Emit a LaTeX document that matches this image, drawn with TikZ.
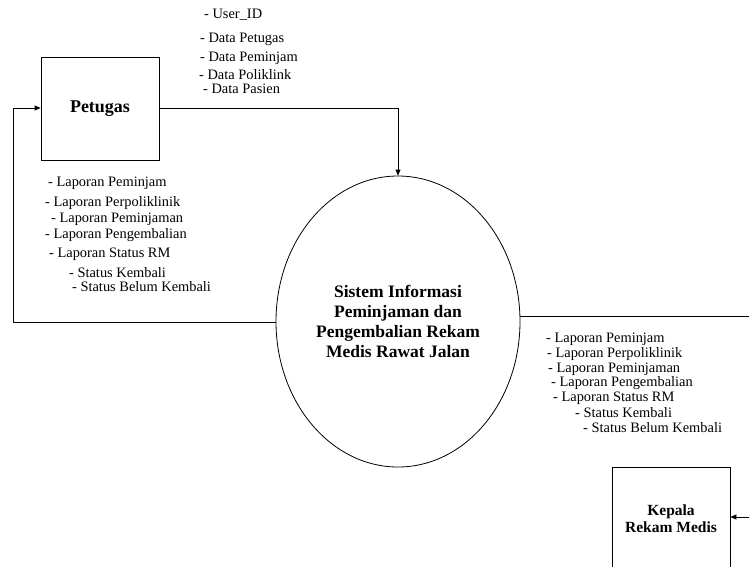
\documentclass[tikz,border=0pt]{standalone}
\usepackage{fontspec}
\setmainfont{Liberation Serif}
\usetikzlibrary{arrows.meta,shapes.geometric}

\tikzset{
  entity/.style={draw, line width=0.8pt, minimum width=118pt, minimum height=103pt,
    inner sep=0pt, align=center, font=\bfseries\fontsize{18}{20}\selectfont},
  process/.style={draw, ellipse, line width=0.8pt, minimum width=244pt, minimum height=291pt,
    inner sep=0pt, align=center, font=\bfseries\fontsize{17.5}{20}\selectfont},
  flow/.style={line width=0.8pt, -{Triangle[length=6pt,width=5pt]}},
  datalbl/.style={anchor=west, inner sep=0pt, font=\fontsize{14.4}{16}\selectfont}
}

\begin{document}
\begin{tikzpicture}[x=1pt,y=-1pt]
  \useasboundingbox (0,0) rectangle (749,566);

  % external entities and the central process
  \node[entity] (petugas) at (100,108.5) {Petugas};
  \node[process] (sis) at (398,321.5) {Sistem Informasi\\Peminjaman dan\\Pengembalian Rekam\\Medis Rawat Jalan};
  \node[entity, font=\bfseries\fontsize{15.5}{17}\selectfont] (kepala) at (671,518.5) {Kepala\\Rekam Medis};

  % helper points for the connector routes
  \coordinate (pr) at (398,108);
  \coordinate (ll) at (13,322);
  \coordinate (lu) at (13,108);
  \coordinate (rr) at (760,316);
  \coordinate (rd) at (760,517);

  % data flows
  \draw[flow] (petugas.east |- pr) -- (pr) -- (sis.north);
  \draw[flow] (sis.west |- ll) -- (ll) -- (lu) -- (petugas.west |- lu);
  \draw[flow] (sis.east |- rr) -- (rr) -- (rd) -- (kepala.east |- rd);

  % labels of the input flow
  \node[datalbl] (u1) at (204,15) {- User\_ID};
  \node[datalbl] (u2) at (200,39) {- Data Petugas};
  \node[datalbl] (u3) at (200,58) {- Data Peminjam};
  \node[datalbl] (u4) at (199,74.5) {- Data Poliklink};
  \node[datalbl] (u5) at (203,88.5) {- Data Pasien};

  % labels of the report flow back to Petugas
  \node[datalbl] (a1) at (48,183) {- Laporan Peminjam};
  \node[datalbl] (a2) at (45,203) {- Laporan Perpoliklinik};
  \node[datalbl] (a3) at (51,219.5) {- Laporan Peminjaman};
  \node[datalbl] (a4) at (45,235) {- Laporan Pengembalian};
  \node[datalbl] (a5) at (49,254) {- Laporan Status RM};
  \node[datalbl] (a6) at (69,273) {- Status Kembali};
  \node[datalbl] (a7) at (72,287) {- Status Belum Kembali};

  % labels of the report flow to Kepala Rekam Medis
  \node[datalbl] (b1) at (546,339) {- Laporan Peminjam};
  \node[datalbl] (b2) at (547,354.5) {- Laporan Perpoliklinik};
  \node[datalbl] (b3) at (548,369) {- Laporan Peminjaman};
  \node[datalbl] (b4) at (551,383.5) {- Laporan Pengembalian};
  \node[datalbl] (b5) at (553,398.5) {- Laporan Status RM};
  \node[datalbl] (b6) at (575,413) {- Status Kembali};
  \node[datalbl] (b7) at (583,428) {- Status Belum Kembali};
\end{tikzpicture}
\end{document}
